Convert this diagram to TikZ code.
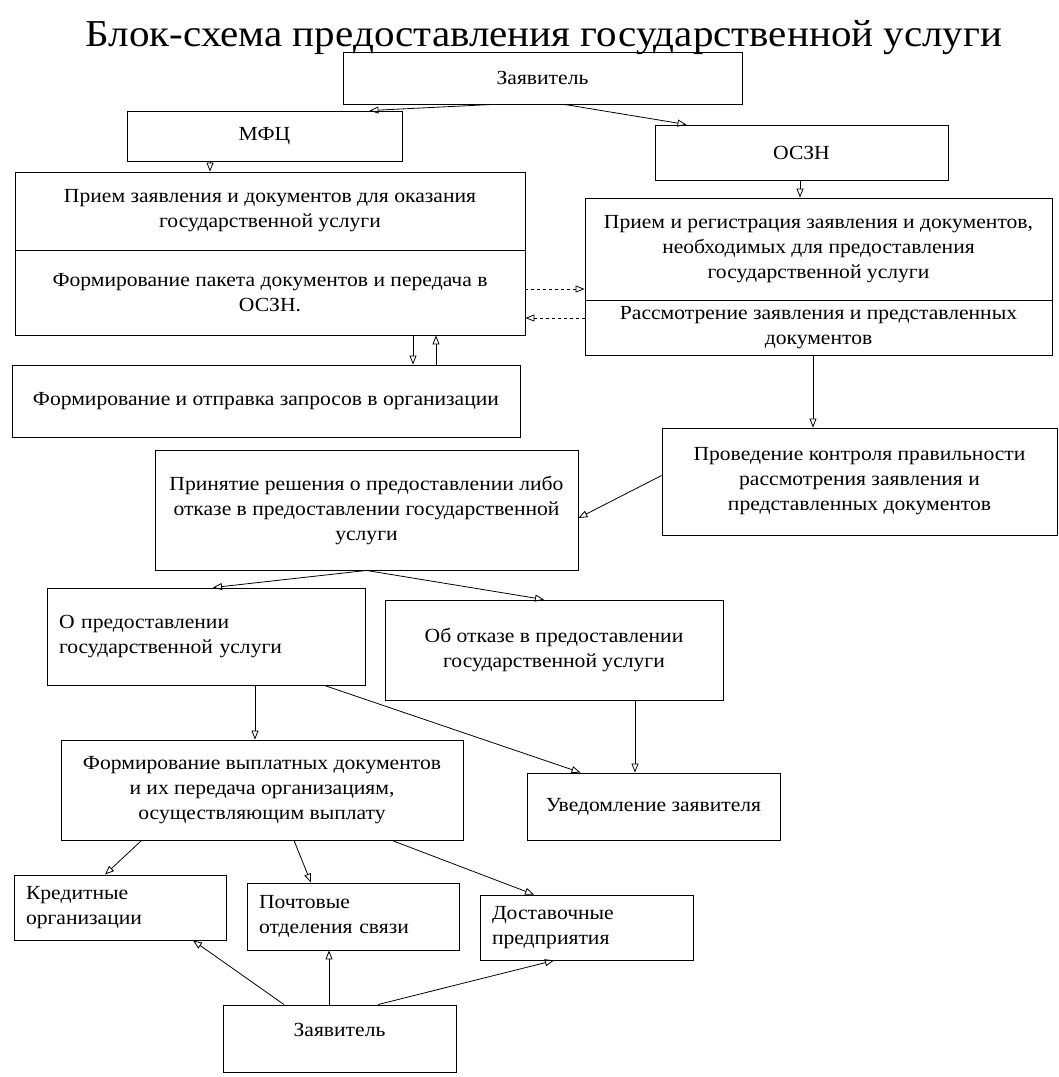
\documentclass[tikz,border=0pt]{standalone}
\usepackage{fontspec}
\setmainfont[FakeStretch=1.08]{Liberation Serif}
\usetikzlibrary{arrows.meta}
\begin{document}
\begin{tikzpicture}[x=1pt,y=-1pt,
  box/.style={draw, line width=0.9pt, rectangle, inner sep=4pt, align=center,
              font=\fontsize{20}{25}\selectfont},
  lbox/.style={box, align=left, inner xsep=12pt},
  arr/.style={line width=0.8pt, -{Triangle[open,length=9pt,width=7pt]}},
]
\fill[white] (0,0) rectangle (1059,1077);
\useasboundingbox (0,0) rectangle (1059,1077);

\node[font=\fontsize{38}{42}\selectfont] (title) at (544,38)
  {Блок-схема предоставления государственной услуги};

\node[box, minimum width=399pt, minimum height=52pt] (zay1) at (542.5,78) {Заявитель};
\node[box, minimum width=275pt, minimum height=50pt] (mfc) at (264.5,136) {МФЦ};
\node[box, minimum width=293pt, minimum height=55pt] (oszn) at (801.5,152.5) {ОСЗН};

\node[box, minimum width=510pt, minimum height=78pt] (priem1) at (270,211)
  {Прием заявления и документов для оказания\\ государственной услуги};
\node[box, minimum width=510pt, minimum height=85pt] (form1) at (270,292.5)
  {Формирование пакета документов и передача в\\ ОСЗН.};
\node[box, minimum width=508pt, minimum height=72pt] (zapros) at (266,401)
  {Формирование и отправка запросов в организации};

\node[box, minimum width=467pt, minimum height=102pt] (priem2) at (818.5,249)
  {Прием и регистрация заявления и документов,\\ необходимых для предоставления\\ государственной услуги};
\node[box, minimum width=467pt, minimum height=55pt] (rassm) at (818.5,327.5)
  {Рассмотрение заявления и представленных\\ документов};

\node[box, minimum width=395pt, minimum height=107pt] (kontrol) at (859.5,481.5)
  {Проведение контроля правильности\\ рассмотрения заявления и\\ представленных документов};
\node[box, minimum width=423pt, minimum height=120pt] (reshenie) at (366.5,510)
  {Принятие решения о предоставлении либо\\ отказе в предоставлении государственной\\ услуги};

\node[lbox, text width=294pt, minimum height=97pt] (opred) at (206,636.5)
  {О предоставлении\\ государственной услуги\\[6pt]};
\node[box, minimum width=338pt, minimum height=100pt] (otkaz) at (554,650)
  {Об отказе в предоставлении\\ государственной услуги};

\node[box, minimum width=402pt, minimum height=100pt] (vyplat) at (262,790)
  {Формирование выплатных документов\\ и их передача организациям,\\ осуществляющим выплату};
\node[box, minimum width=253pt, minimum height=67pt] (uved) at (653.5,806.5)
  {Уведомление заявителя};

\node[lbox, text width=188pt, minimum height=65pt] (kred) at (120,907.5)
  {Кредитные\\ организации};
\node[lbox, text width=188pt, minimum height=67pt] (pocht) at (353,916.5)
  {Почтовые\\ отделения связи};
\node[lbox, text width=189pt, minimum height=65pt] (dost) at (586.5,927.5)
  {Доставочные\\ предприятия};

\node[box, minimum width=233pt, minimum height=67pt] (zay2) at (339.5,1038.5)
  {Заявитель\\[-8pt]};

% connectors
\draw[arr] ([xshift=-50pt]zay1.south) -- ([xshift=105pt]mfc.north);
\draw[arr] ([xshift=22pt]zay1.south) -- ([xshift=-115pt]oszn.north);
\draw[arr, dash dot] ([xshift=-54.5pt]mfc.south) -- ([xshift=-54.5pt]mfc.south |- priem1.north);
\draw[arr] ([xshift=-1.5pt]oszn.south) -- ([xshift=-1.5pt]oszn.south |- priem2.north);

\draw[arr, dashed] ([yshift=3.5pt]form1.east) -- ([yshift=3.5pt]form1.east -| priem2.west);
\draw[arr, dashed] ([yshift=-25.5pt]form1.east -| rassm.west) -- ([yshift=-25.5pt]form1.east);

\draw[arr] ([xshift=143pt]form1.south) -- ([xshift=143pt]form1.south |- zapros.north);
\draw[arr] ([xshift=166pt]form1.south |- zapros.north) -- ([xshift=166pt]form1.south);

\draw[arr] ([xshift=-5.5pt]rassm.south) -- ([xshift=-5.5pt]rassm.south |- kontrol.north);
\draw[arr] ([yshift=6pt]kontrol.west) -- ([yshift=-8pt]reshenie.east);

\draw[arr] (reshenie.south) -- ([xshift=7pt]opred.north);
\draw[arr] (reshenie.south) -- ([xshift=-10pt]otkaz.north);

\draw[arr] ([xshift=49pt]opred.south) -- ([xshift=49pt]opred.south |- vyplat.north);
\draw[arr] ([xshift=-41pt]opred.south east) -- ([xshift=54pt]uved.north west);
\draw[arr] ([xshift=81pt]otkaz.south) -- ([xshift=81pt]otkaz.south |- uved.north);

\draw[arr] ([xshift=81pt]vyplat.south west) -- ([xshift=-15pt]kred.north);
\draw[arr] ([xshift=32pt]vyplat.south) -- ([xshift=-42pt]pocht.north);
\draw[arr] ([xshift=130pt]vyplat.south) -- ([xshift=-52.5pt]dost.north);

\draw[arr] ([xshift=-55.5pt]zay2.north) -- ([xshift=73pt]kred.south);
\draw[arr] ([xshift=-10.5pt]zay2.north) -- ([xshift=-10.5pt]zay2.north |- pocht.south);
\draw[arr] ([xshift=38.5pt]zay2.north) -- ([xshift=-32.5pt]dost.south);
\end{tikzpicture}
\end{document}
